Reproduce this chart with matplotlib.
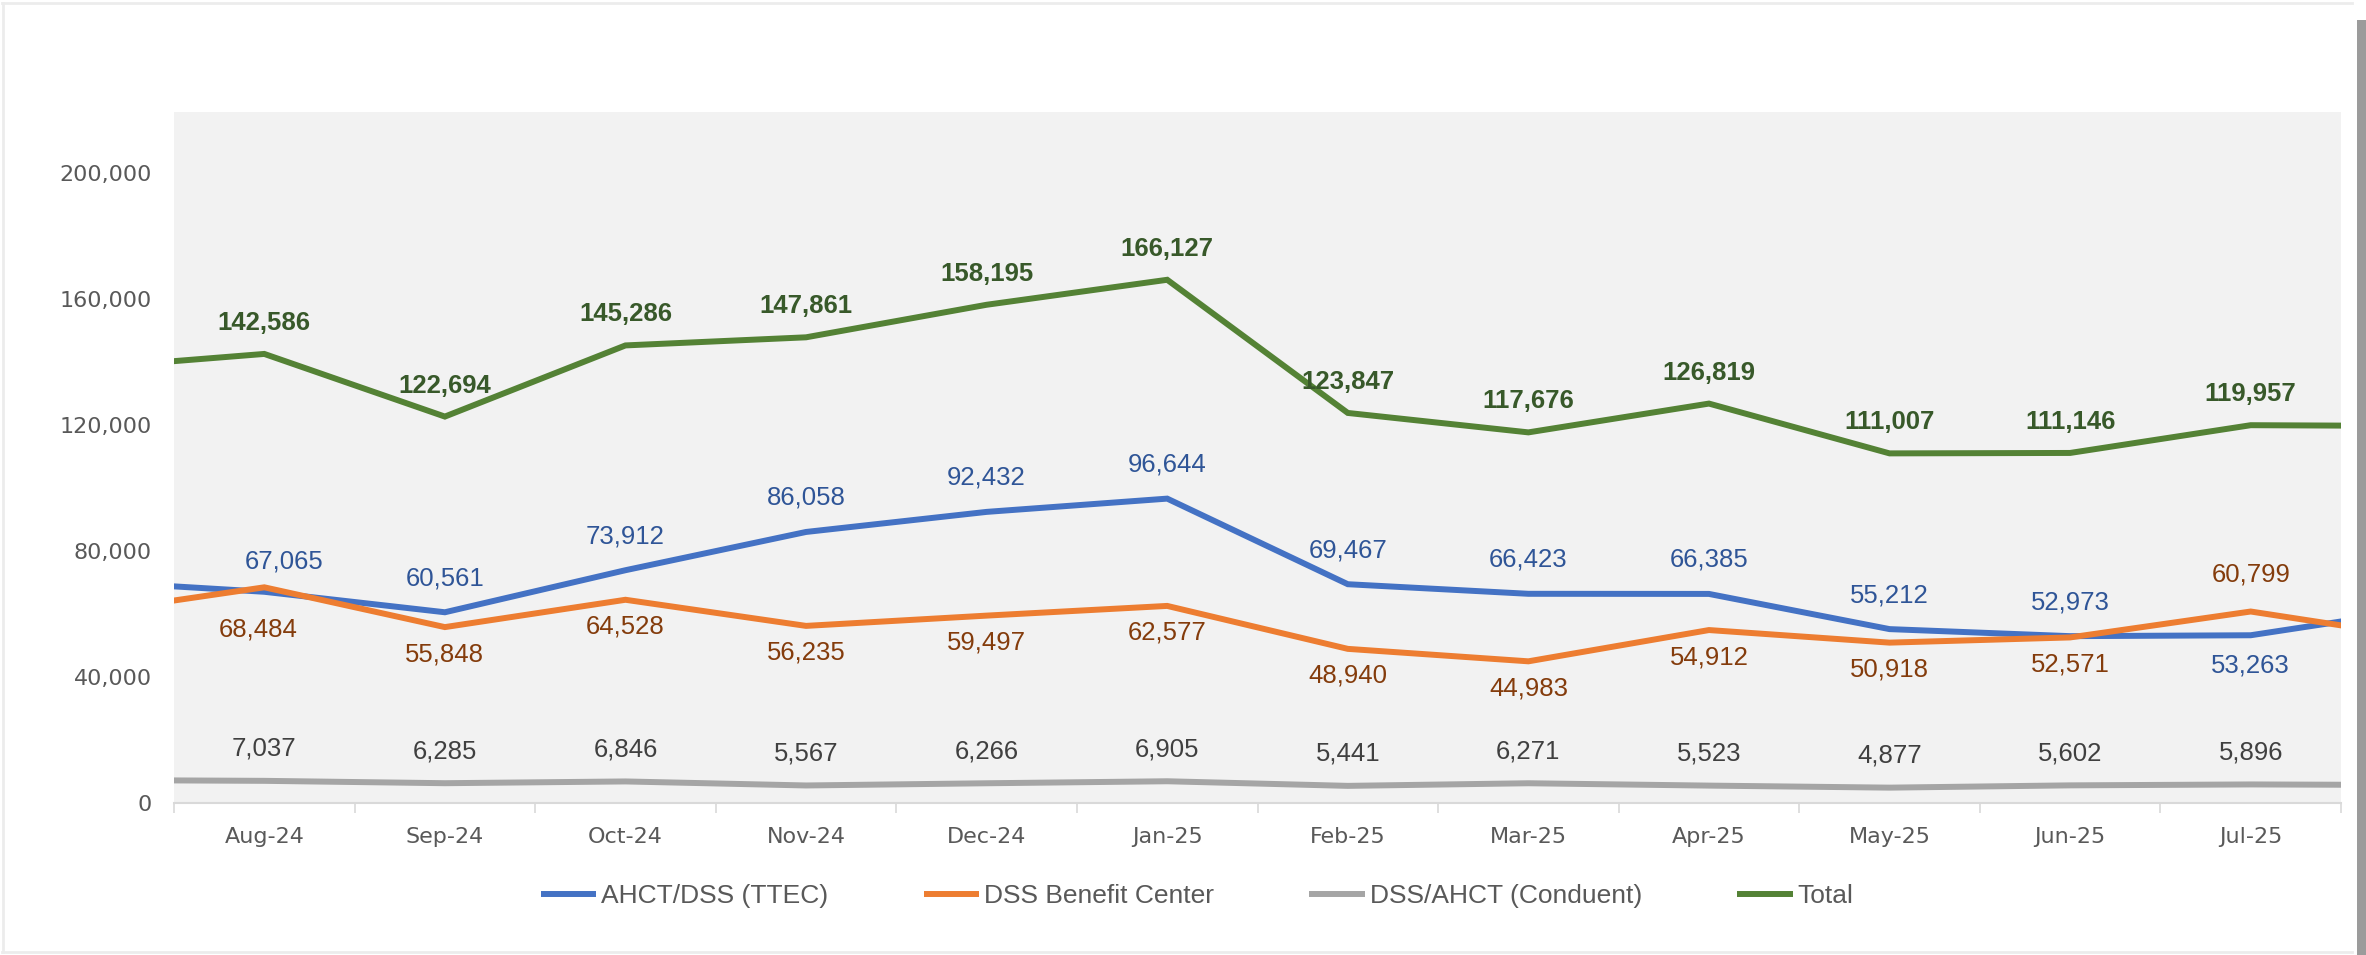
import matplotlib
matplotlib.use("Agg")
import matplotlib.pyplot as plt
from matplotlib.lines import Line2D
from matplotlib.patches import Rectangle
from matplotlib.ticker import FuncFormatter, FixedLocator

# visible months; Jul-24 and Aug-25 only show as the line stubs at the edges
months = ["Jul-24", "Aug-24", "Sep-24", "Oct-24", "Nov-24", "Dec-24", "Jan-25",
          "Feb-25", "Mar-25", "Apr-25", "May-25", "Jun-25", "Jul-25", "Aug-25"]

ttec = [70500, 67065, 60561, 73912, 86058, 92432, 96644,
        69467, 66423, 66385, 55212, 52973, 53263, 62000]
benefit_center = [60100, 68484, 55848, 64528, 56235, 59497, 62577,
                  48940, 44983, 54912, 50918, 52571, 60799, 52000]
conduent = [7300, 7037, 6285, 6846, 5567, 6266, 6905,
            5441, 6271, 5523, 4877, 5602, 5896, 5700]
total = [138000, 142586, 122694, 145286, 147861, 158195, 166127,
         123847, 117676, 126819, 111007, 111146, 119957, 119700]

series_names = ["AHCT/DSS (TTEC)", "DSS Benefit Center", "DSS/AHCT (Conduent)", "Total"]
yticks = [0, 40000, 80000, 120000, 160000, 200000]

LABEL_FONT = ["Liberation Sans", "DejaVu Sans"]

fig = plt.figure(figsize=(23.66, 9.55), dpi=100)
fig.patch.set_facecolor("white")
ax = fig.add_axes([174 / 2366, 1 - 803 / 955, (2341 - 174) / 2366, (803 - 112) / 955])
ax.set_facecolor("#f2f2f2")

x = list(range(-1, len(months) - 1))

styles = [
    # series, line colour, label colour, bold, default offset (px)
    (ttec, "#4472c4", "#2f5597", False, 34),
    (benefit_center, "#ed7d31", "#843c0c", False, -27),
    (conduent, "#a5a5a5", "#404040", False, 32),
    (total, "#548235", "#38592a", True, 31),
]

# a few labels sit on the other side of their line, as in the source chart
label_nudges = {
    (0, 12): (0, -30),
    (1, 12): (0, 37),
    (0, 1): (20, 30),
    (1, 1): (-6, -42),
}

handles = []
for si, (vals, color, lcolor, bold, dy) in enumerate(styles):
    line, = ax.plot(x, vals, color=color, lw=4.3, solid_joinstyle="miter",
                    solid_capstyle="butt", zorder=3, clip_on=True)
    handles.append(line)
    for i in range(1, len(months) - 1):
        dx, ddy = label_nudges.get((si, i), (0, dy))
        ax.annotate(f"{vals[i]:,}", (x[i], vals[i]), xytext=(dx, ddy),
                    textcoords="offset pixels", ha="center", va="center",
                    fontsize=18.5, color=lcolor, family=LABEL_FONT,
                    fontweight="bold" if bold else "normal", zorder=4)

ax.set_xlim(-0.5, 11.5)
ax.set_ylim(0, 219400)

ax.xaxis.set_major_locator(FixedLocator(range(12)))
ax.set_xticklabels(months[1:-1])
ax.xaxis.set_minor_locator(FixedLocator([i + 0.5 for i in range(-1, 12)]))
ax.tick_params(axis="x", which="major", length=0, pad=17, labelsize=16, labelcolor="#595959")
ax.tick_params(axis="x", which="minor", length=7, width=1.2, color="#d9d9d9")

ax.set_yticks(yticks)
ax.yaxis.set_major_formatter(FuncFormatter(lambda v, p: f"{int(v):,}"))
ax.tick_params(axis="y", length=0, pad=16, labelsize=16, labelcolor="#595959")

for side in ["top", "right", "left"]:
    ax.spines[side].set_visible(False)
ax.spines["bottom"].set_color("#d9d9d9")
ax.spines["bottom"].set_linewidth(1.5)

leg = fig.legend(handles, series_names, loc="center", bbox_to_anchor=(0.506, 0.062),
                 ncol=4, frameon=False, handlelength=2.1, handletextpad=0.2,
                 columnspacing=3.6, prop={"family": LABEL_FONT, "size": 19})
for t in leg.get_texts():
    t.set_color("#595959")

# frame of the original screenshot
fig.add_artist(Line2D([3 / 2366, 3 / 2366], [0.003, 0.997], color="#ececec", lw=2))
fig.add_artist(Line2D([0.001, 2352 / 2366], [1 - 3 / 955, 1 - 3 / 955], color="#ececec", lw=2))
fig.add_artist(Line2D([0.001, 2352 / 2366], [3 / 955, 3 / 955], color="#ececec", lw=2))
fig.add_artist(Rectangle((2357 / 2366, 0), 9 / 2366, 1 - 20 / 955,
                         facecolor="#9b9b9b", edgecolor="none"))

fig.savefig("out.png", dpi=100, facecolor="white")
